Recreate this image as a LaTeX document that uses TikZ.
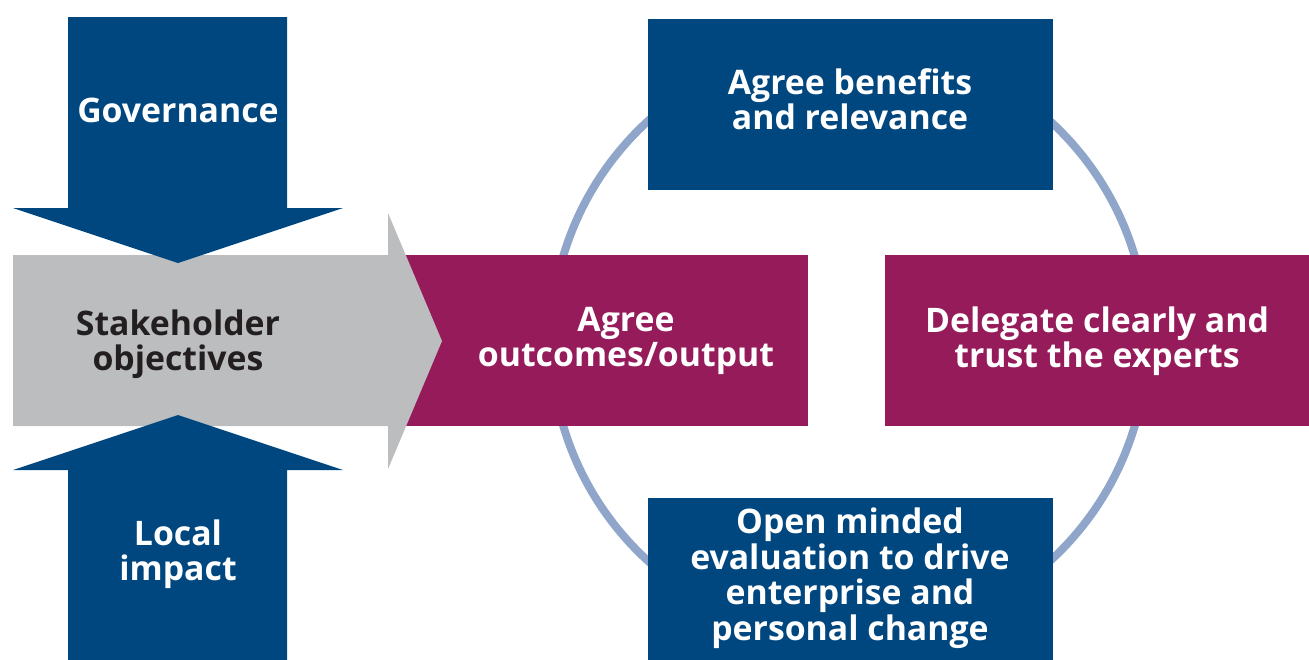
\documentclass[tikz,border=0pt]{standalone}
\usepackage{fontspec}
\setmainfont{Open Sans}
\definecolor{dblue}{HTML}{004780}
\definecolor{plum}{HTML}{961B5B}
\definecolor{lgray}{HTML}{BBBDBF}
\definecolor{ring}{HTML}{8FA5C9}
\definecolor{dtext}{HTML}{231F20}
\tikzset{
  box/.style={rectangle, draw=none, inner sep=0pt, outer sep=0pt},
  lbl/.style={align=center, inner sep=0pt, text=white,
    font=\fontsize{33.8}{35.5}\selectfont\bfseries},
}
\begin{document}
\begin{tikzpicture}[x=1pt,y=-1pt]
\useasboundingbox (0,0) rectangle (1309,659);
% ring
\draw[ring, line width=8pt] (849,341) circle[radius=298];
% boxes
\node[box, fill=dblue, minimum width=405pt, minimum height=171pt] (benefits) at (850.5,104.5) {};
\node[box, fill=dblue, minimum width=405pt, minimum height=165pt] (evaluation) at (850.5,580.5) {};
\node[box, fill=plum, minimum width=403pt, minimum height=171pt] (outcomes) at (606.5,340.5) {};
\node[box, fill=plum, minimum width=430pt, minimum height=171pt] (delegate) at (1100,340.5) {};
% stakeholder arrow
\fill[lgray] (13,255) -- (388,255) -- (388,213) -- (442,341) -- (388,469) -- (388,426) -- (13,426) -- cycle;
% governance arrow
\fill[dblue] (68,17) -- (287,17) -- (287,208) -- (343,208) -- (178,263) -- (13,208) -- (68,208) -- cycle;
% local impact arrow
\fill[dblue] (68,665) -- (287,665) -- (287,470) -- (343,470) -- (178,415) -- (13,470) -- (68,470) -- cycle;
% labels
\node[lbl] (tgov) at (178,110) {Governance};
\node[lbl, text=dtext] (tstake) at (178,344) {Stakeholder\\objectives};
\node[lbl] (tlocal) at (178,554) {Local\\impact};
\node[lbl] (tout) at (626,341) {Agree\\outcomes/output};
\node[lbl] (tdel) at (1097,341) {Delegate clearly and\\trust the experts};
\node[lbl] (tben) at (850,99) {Agree benefits\\and relevance};
\node[lbl] (teval) at (850,578) {Open minded\\evaluation to drive\\enterprise and\\personal change};
\end{tikzpicture}
\end{document}
